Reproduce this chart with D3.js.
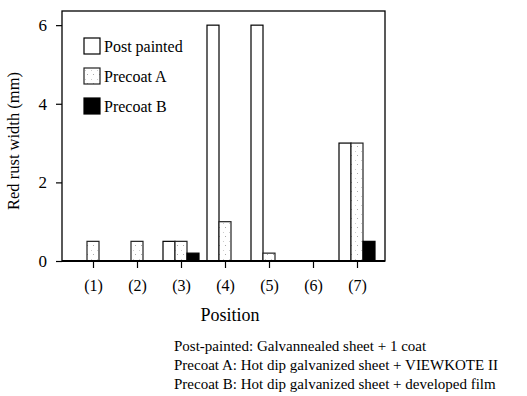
<!DOCTYPE html>
<html>
<head>
<meta charset="utf-8">
<script src="https://d3js.org/d3.v7.min.js"></script>
<style>
  body { margin: 0; background: #fff; }
  svg text { font-family: "Liberation Serif", "Times New Roman", serif; fill: #000; }
</style>
</head>
<body>
<div id="chart"></div>
<script>
// positions along the x axis
var positions = ["(1)", "(2)", "(3)", "(4)", "(5)", "(6)", "(7)"];
// red rust width (mm) per position
var postPainted = [0, 0, 0.5, 6, 6, 0, 3];
var precoatA = [0.5, 0.5, 0.5, 1, 0.2, 0, 3];
var precoatB = [0, 0, 0.2, 0, 0, 0, 0.5];
var seriesNames = ["Post painted", "Precoat A", "Precoat B"];
var yTicks = [0, 2, 4, 6];
var notes = [
	"Post-painted: Galvannealed sheet + 1 coat",
	"Precoat A: Hot dip galvanized sheet + VIEWKOTE II",
	"Precoat B: Hot dip galvanized sheet + developed film"
];

var W = 527, H = 396;
var mLeft = 62, mTop = 11, mRight = 385, mBottom = 261;

var svg = d3.select("#chart").append("svg")
	.attr("width", W).attr("height", H);

// stipple for precoat A
var defs = svg.append("defs");
var pat = defs.append("pattern").attr("id", "stip")
	.attr("patternUnits", "userSpaceOnUse").attr("width", 6).attr("height", 9);
pat.append("rect").attr("width", 6).attr("height", 9).attr("fill", "#fff");
pat.append("rect").attr("x", 3).attr("y", 2).attr("width", 1).attr("height", 1).attr("fill", "#aaa");
pat.append("rect").attr("x", 1).attr("y", 7).attr("width", 1).attr("height", 1).attr("fill", "#ccc");

var x = d3.scalePoint().domain(positions).range([93, 357]);
var y = d3.scaleLinear().domain([0, 6.36]).range([mBottom, mTop]);

// frame
svg.append("rect").attr("x", mLeft).attr("y", mTop)
	.attr("width", mRight - mLeft).attr("height", mBottom - mTop)
	.attr("fill", "none").attr("stroke", "#000").attr("stroke-width", 1.3);

// bars
var bw = 12;
var series = [
	{ name: seriesNames[0], values: postPainted, off: -1.5 * bw, fill: "#fff", stroke: "#000" },
	{ name: seriesNames[1], values: precoatA, off: -0.5 * bw, fill: "url(#stip)", stroke: "#222" },
	{ name: seriesNames[2], values: precoatB, off: 0.5 * bw, fill: "#000", stroke: "#000" }
];
series.forEach(function(s) {
	svg.append("g").selectAll("rect")
		.data(s.values.map(function(v, i) { return { p: positions[i], v: v }; }).filter(function(d) { return d.v > 0; }))
		.enter().append("rect")
		.attr("x", function(d) { return x(d.p) + s.off; })
		.attr("y", function(d) { return y(d.v); })
		.attr("width", bw)
		.attr("height", function(d) { return y(0) - y(d.v); })
		.attr("fill", s.fill)
		.attr("stroke", s.stroke)
		.attr("stroke-width", 1.2);
});

// baseline
svg.append("line").attr("x1", mLeft).attr("x2", mRight)
	.attr("y1", mBottom).attr("y2", mBottom)
	.attr("stroke", "#000").attr("stroke-width", 2);

// y axis
var yAxis = svg.append("g").attr("transform", "translate(" + mLeft + ",0)")
	.call(d3.axisLeft(y).tickValues(yTicks).tickSize(6).tickPadding(9).tickFormat(d3.format("d")));
yAxis.select(".domain").remove();
yAxis.selectAll("line").attr("stroke", "#000").attr("stroke-width", 1.2);
yAxis.selectAll("text").style("font-size", "17px").style("font-family", "Liberation Serif");

// x axis
var xAxis = svg.append("g").attr("transform", "translate(0," + mBottom + ")")
	.call(d3.axisBottom(x).tickSize(7).tickPadding(12));
xAxis.select(".domain").remove();
xAxis.selectAll("line").attr("stroke", "#000").attr("stroke-width", 1.2);
xAxis.selectAll("text").style("font-size", "16px").style("font-family", "Liberation Serif");

// axis titles
svg.append("text")
	.attr("transform", "translate(19,141) rotate(-90)")
	.attr("text-anchor", "middle")
	.style("font-size", "16.5px")
	.text("Red rust width (mm)");
svg.append("text")
	.attr("x", 230).attr("y", 321)
	.attr("text-anchor", "middle")
	.style("font-size", "18px")
	.text("Position");

// legend
var leg = svg.append("g");
series.forEach(function(s, i) {
	var ly = 38 + i * 30;
	leg.append("rect").attr("x", 84).attr("y", ly)
		.attr("width", 16).attr("height", 16)
		.attr("fill", s.fill).attr("stroke", s.stroke).attr("stroke-width", 1.2);
	leg.append("text").attr("x", 104).attr("y", ly + 14)
		.style("font-size", "16px").text(s.name);
});

// notes
svg.append("g").selectAll("text").data(notes).enter().append("text")
	.attr("x", 174).attr("y", function(d, i) { return 351 + i * 19; })
	.style("font-size", "15px")
	.text(function(d) { return d; });
</script>
</body>
</html>
